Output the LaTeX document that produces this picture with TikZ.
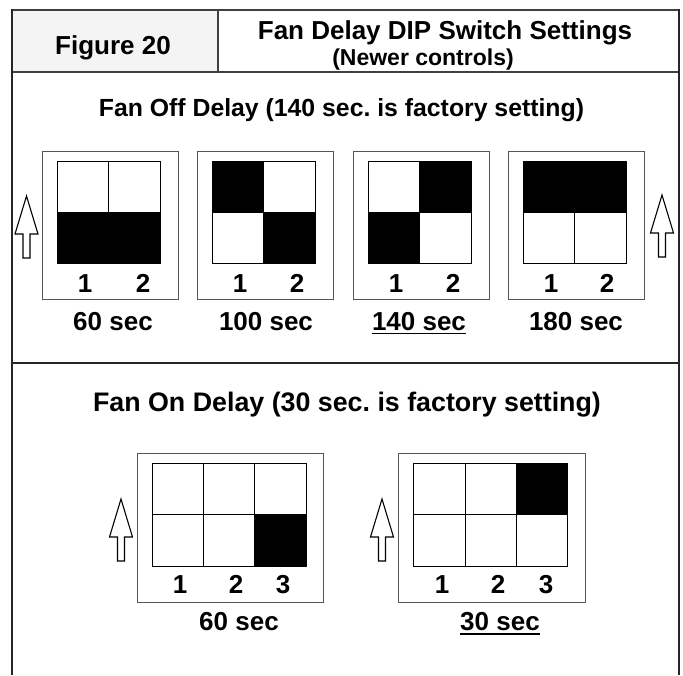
\documentclass[tikz,border=0pt]{standalone}
\usepackage{fontspec}
\setmainfont{Liberation Sans}
\frenchspacing
\definecolor{hdrgray}{HTML}{F4F4F4}
\definecolor{boxgray}{HTML}{555555}
\tikzset{
  frame/.style={line width=2.6pt, black!85},
  hdrline/.style={line width=1.6pt, black!75},
  swbox/.style={draw=boxgray, line width=1pt},
  cellline/.style={draw=black, line width=0.9pt},
  on/.style={fill=black},
  big/.style={font=\bfseries\fontsize{26}{30}\selectfont, inner sep=0pt, anchor=base},
  ttla/.style={font=\bfseries\fontsize{24.8}{30}\selectfont, inner sep=0pt, anchor=base},
  ttlb/.style={font=\bfseries\fontsize{26.8}{30}\selectfont, inner sep=0pt, anchor=base},
  sub/.style={font=\bfseries\fontsize{23}{28}\selectfont, inner sep=0pt, anchor=base},
  num/.style={font=\bfseries\fontsize{26}{30}\selectfont, inner sep=0pt, anchor=base},
  uline/.style={line width=1.6pt, black},
  uparr/.pic={\draw[line width=1.1pt, black, fill=white, line join=miter]
     (0,0) -- (-11.5,38) -- (-3.5,38) -- (-3.5,62) -- (3.5,62) -- (3.5,38) -- (11.5,38) -- cycle;}
}
\begin{document}
\begin{tikzpicture}[x=1pt,y=-1pt]
\useasboundingbox (0,0) rectangle (683,675);
% header
\fill[hdrgray] (11,10) rectangle (218,72);
\draw[hdrline] (218,10) -- (218,72);
\draw[hdrline] (11,72) -- (679,72);
\draw[hdrline] (11,10) -- (679,10);
% outer frame
\draw[frame] (12,9) -- (12,675);
\draw[frame] (679,9) -- (679,675);
\draw[frame] (12,363) -- (679,363);
% header text
\node[big] (fig) at (113,54) {Figure 20};
\node[big] (ttl) at (445,39) {Fan Delay DIP Switch Settings};
\node[sub] (subttl) at (423,65) {(Newer controls)};
% section titles
\node[ttla] (offttl) at (341.5,116) {Fan Off Delay (140 sec. is factory setting)};
\node[ttlb] (onttl) at (347,411) {Fan On Delay (30 sec. is factory setting)};

% ---- top switches ----
% box 1 : 60 sec (bottom row on)
\draw[swbox] (42,151) rectangle (178,299);
\fill[on] (57,212) rectangle (160,263);
\draw[cellline] (57,161) rectangle (160,263) (108.5,161) -- (108.5,263) (57,212) -- (160,212);
\node[num] (a1) at (85,292) {1};
\node[num] (a2) at (143,292) {2};
\node[big] (l60) at (113,330) {60 sec};
% box 2 : 100 sec
\draw[swbox] (197,151) rectangle (333,299);
\fill[on] (212,161) rectangle (263.5,212);
\fill[on] (263.5,212) rectangle (315,263);
\draw[cellline] (212,161) rectangle (315,263) (263.5,161) -- (263.5,263) (212,212) -- (315,212);
\node[num] (b1) at (240,292) {1};
\node[num] (b2) at (297,292) {2};
\node[big] (l100) at (266,330) {100 sec};
% box 3 : 140 sec
\draw[swbox] (353,151) rectangle (489,299);
\fill[on] (419.5,161) rectangle (471,212);
\fill[on] (368,212) rectangle (419.5,263);
\draw[cellline] (368,161) rectangle (471,263) (419.5,161) -- (419.5,263) (368,212) -- (471,212);
\node[num] (c1) at (396,292) {1};
\node[num] (c2) at (453,292) {2};
\node[big] (l140) at (419,330) {140 sec};
\draw[uline] ([yshift=-3.5pt]l140.base west) -- ([yshift=-3.5pt]l140.base east);
% box 4 : 180 sec
\draw[swbox] (508,151) rectangle (644,299);
\fill[on] (523,161) rectangle (626,212);
\draw[cellline] (523,161) rectangle (626,263) (574.5,161) -- (574.5,263) (523,212) -- (626,212);
\node[num] (d1) at (551,292) {1};
\node[num] (d2) at (607,292) {2};
\node[big] (l180) at (576,330) {180 sec};
% arrows top
\pic at (26.5,196) {uparr};
\pic at (662,195) {uparr};

% ---- bottom switches ----
% box 5 : 60 sec
\draw[swbox] (137,453) rectangle (323,602);
\fill[on] (254.5,514) rectangle (306,566);
\draw[cellline] (152,463) rectangle (306,566) (203.5,463) -- (203.5,566) (254.5,463) -- (254.5,566) (152,514) -- (306,514);
\node[num] (e1) at (180,593) {1};
\node[num] (e2) at (236,593) {2};
\node[num] (e3) at (283,593) {3};
\node[big] (l60b) at (239,630) {60 sec};
% box 6 : 30 sec
\draw[swbox] (398,453) rectangle (585,602);
\fill[on] (516,463) rectangle (567,514);
\draw[cellline] (413,463) rectangle (567,566) (465,463) -- (465,566) (516,463) -- (516,566) (413,514) -- (567,514);
\node[num] (f1) at (442,593) {1};
\node[num] (f2) at (498,593) {2};
\node[num] (f3) at (546,593) {3};
\node[big] (l30) at (500,630) {30 sec};
\draw[uline] ([yshift=-4pt]l30.base west) -- ([yshift=-4pt]l30.base east);
% arrows bottom
\pic at (121,499) {uparr};
\pic at (382,499) {uparr};
\end{tikzpicture}
\end{document}
